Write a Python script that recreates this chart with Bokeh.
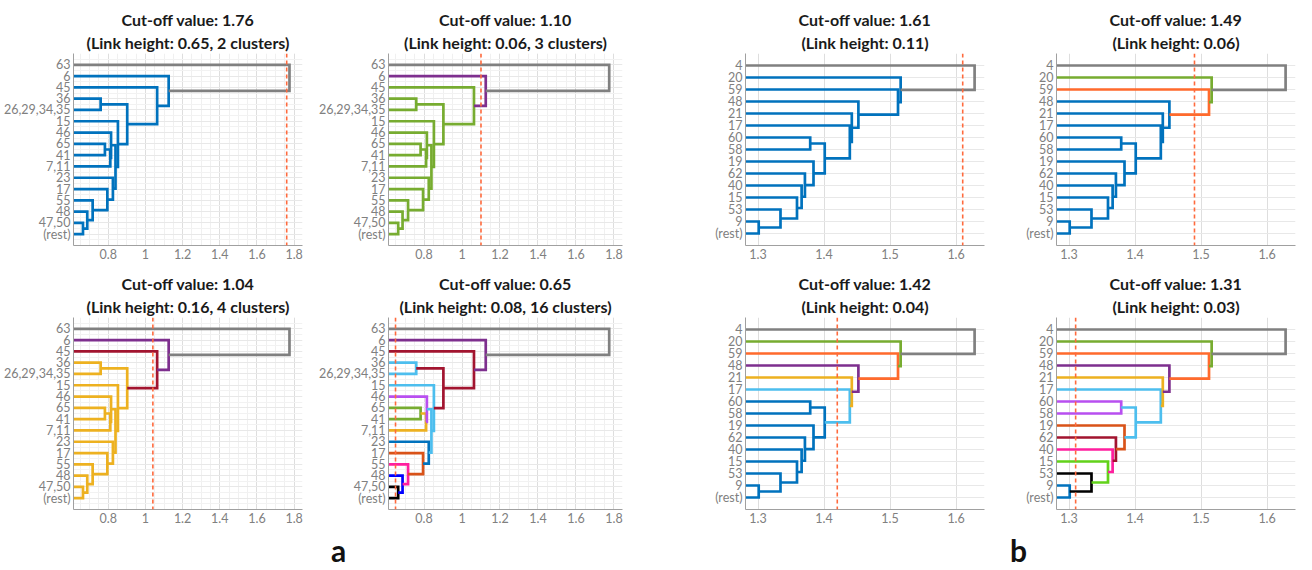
from bokeh.plotting import figure
from bokeh.models import Range1d, FixedTicker, Span, Title, Label, ColumnDataSource
from bokeh.layouts import column, row
from bokeh.embed import file_html
from bokeh.resources import INLINE

# ---------------- data ----------------
# Panel group a: 16 leaves (top to bottom)
a_leaves = ["63", "6", "45", "36", "26,29,34,35", "15", "46", "65", "41", "7,11",
            "23", "17", "55", "48", "47,50", "(rest)"]
# links: child ids (leaf index < 16, link k -> 16 + k)
a_left = [14, 13, 12, 11, 10, 7, 21, 6, 23, 5, 3, 26, 2, 1, 0]
a_right = [15, 16, 17, 18, 19, 8, 9, 22, 20, 24, 4, 25, 27, 28, 29]
a_height = [0.664, 0.687, 0.716, 0.795, 0.825, 0.782, 0.811, 0.815, 0.839,
            0.852, 0.759, 0.902, 1.063, 1.125, 1.775]
a_cut = [1.76, 1.10, 1.04, 0.65]
a_link_txt = ["0.65", "0.06", "0.16", "0.08"]
a_clusters = [2, 3, 4, 16]
a_xticks = [0.8, 1, 1.2, 1.4, 1.6, 1.8]
a_xlabels = ["0.8", "1", "1.2", "1.4", "1.6", "1.8"]

# Panel group b: 15 leaves (top to bottom)
b_leaves = ["4", "20", "59", "48", "21", "17", "60", "58", "19", "62", "40",
            "15", "53", "9", "(rest)"]
b_left = [13, 12, 11, 10, 9, 8, 6, 21, 5, 4, 3, 2, 1, 0]
b_right = [14, 15, 16, 17, 18, 19, 7, 20, 22, 23, 24, 25, 26, 27]
b_height = [1.301, 1.334, 1.359, 1.366, 1.371, 1.384, 1.379, 1.401, 1.439,
            1.442, 1.452, 1.512, 1.516, 1.628]
b_cut = [1.61, 1.49, 1.42, 1.31]
b_link_txt = ["0.11", "0.06", "0.04", "0.03"]
b_xticks = [1.3, 1.4, 1.5, 1.6]
b_xlabels = ["1.3", "1.4", "1.5", "1.6"]

panel_letters = ["a", "b"]

# ---------------- styles ----------------
BL = "#0072BD"; GR = "#77AC30"; YE = "#EDB120"; PU = "#7E2F8E"; DR = "#A2142F"
LB = "#4DBEEE"; OR = "#D95319"; GY = "#808080"; VI = "#B84FF0"; PK = "#FF1F9E"
BB = "#0000FF"; BK = "#000000"; LI = "#62D21A"; OR2 = "#FF6A2C"

a_colors = [
    [BL] * 14 + [GY],
    [GR] * 13 + [PU, GY],
    [YE] * 12 + [DR, PU, GY],
    [BK, BB, PK, OR, BL, GR, YE, VI, LB, LB, LB, DR, DR, PU, GY],
]
b_colors = [
    [BL] * 13 + [GY],
    [BL] * 11 + [OR2, GR, GY],
    [BL] * 8 + [LB, YE, PU, OR2, GR, GY],
    [BL, BK, LI, PK, DR, OR, VI, LB, LB, YE, PU, OR2, GR, GY],
]

A_XR = (0.613, 1.845)
B_XR = (1.281, 1.643)
a_xminor = [round(0.6 + 0.05 * i, 2) for i in range(26)]
a_yminor = [i + 0.5 for i in range(-1, 16)]

TICK_FONT = "12.5px"
TITLE_FONT = "16px"


def make_panel(leaves, left, right, heights, colors, cut, t1, t2, xr, xticks,
               xlabels, xminor, yminor, width, height, mbl, mbr, mbt, mbb):
    n = len(leaves)
    p = figure(width=width, height=height, output_backend="svg", toolbar_location=None,
               title=None, x_range=Range1d(*xr), y_range=Range1d(n, -1),
               min_border_left=mbl, min_border_right=mbr, min_border_top=mbt,
               min_border_bottom=mbb, background_fill_color="white",
               border_fill_color="white", outline_line_color=None)
    nx = [xr[0] - 1.0] * n
    ny = list(range(n))
    xs, ys = [], []
    for k in range(len(heights)):
        l, r, h = left[k], right[k], heights[k]
        xs.append([nx[l], h, h, nx[r]])
        ys.append([ny[l], ny[l], ny[r], ny[r]])
        nx.append(h)
        ny.append((ny[l] + ny[r]) / 2)
    src = ColumnDataSource(dict(xs=xs, ys=ys, color=colors))
    p.multi_line("xs", "ys", line_color="color", line_width=2.7, line_join="miter",
                 source=src)
    p.add_layout(Span(location=cut, dimension="height", line_color="#FF6A3D",
                      line_dash="4 3", line_width=1.6))

    p.add_layout(Title(text=t2, align="center", text_font="Lato", text_font_size=TITLE_FONT,
                       text_font_style="bold", text_color="#1a1a1a", standoff=3), "above")
    p.add_layout(Title(text=t1, align="center", text_font="Lato", text_font_size=TITLE_FONT,
                       text_font_style="bold", text_color="#1a1a1a", standoff=1), "above")

    p.xaxis.ticker = FixedTicker(ticks=xticks)
    p.xaxis.major_label_overrides = {t: s for t, s in zip(xticks, xlabels)}
    p.yaxis.ticker = FixedTicker(ticks=list(range(n)))
    p.yaxis.major_label_overrides = {i: s for i, s in enumerate(leaves)}
    for ax in (p.xaxis, p.yaxis):
        ax.axis_line_color = "#a0a0a0"
        ax.axis_line_width = 1
        ax.major_tick_line_color = None
        ax.minor_tick_line_color = None
        ax.major_tick_out = 0
        ax.major_tick_in = 0
        ax.minor_tick_out = 0
        ax.minor_tick_in = 0
        ax.major_label_text_color = "#808080"
        ax.major_label_text_font = "Lato"
        ax.major_label_text_font_size = TICK_FONT
        ax.major_label_standoff = 3

    p.xgrid.ticker = FixedTicker(ticks=xticks, minor_ticks=xminor)
    p.xgrid.grid_line_color = "#dedede"
    p.xgrid.minor_grid_line_color = "#f0f0f0" if xminor else None
    p.ygrid.ticker = FixedTicker(ticks=list(range(n)), minor_ticks=yminor)
    p.ygrid.grid_line_color = "#e8e8e8"
    p.ygrid.minor_grid_line_color = "#f2f2f2" if yminor else None
    return p


def a_titles(i):
    return (f"Cut-off value: {a_cut[i]:.2f}",
            f"(Link height: {a_link_txt[i]}, {a_clusters[i]} clusters)")


def b_titles(i):
    return (f"Cut-off value: {b_cut[i]:.2f}", f"(Link height: {b_link_txt[i]})")


# four columns: a1, a2, b1, b2
cols = [dict(w=312, l=72, r=10), dict(w=320, l=76, r=10),
        dict(w=362, l=113, r=10), dict(w=302, l=62, r=1)]
rows_cfg = [dict(h=267, t=53, b=22), dict(h=262, t=50, b=20)]

figs = []
for ri in range(2):
    rc = rows_cfg[ri]
    line = []
    for ci in range(4):
        cc = cols[ci]
        if ci < 2:
            idx = ri * 2 + ci
            t1, t2 = a_titles(idx)
            p = make_panel(a_leaves, a_left, a_right, a_height, a_colors[idx], a_cut[idx],
                           t1, t2, A_XR, a_xticks, a_xlabels, a_xminor, a_yminor,
                           cc["w"], rc["h"], cc["l"], cc["r"], rc["t"], rc["b"])
        else:
            idx = ri * 2 + (ci - 2)
            t1, t2 = b_titles(idx)
            p = make_panel(b_leaves, b_left, b_right, b_height, b_colors[idx], b_cut[idx],
                           t1, t2, B_XR, b_xticks, b_xlabels, [], [],
                           cc["w"], rc["h"], cc["l"], cc["r"], rc["t"], rc["b"])
        line.append(p)
    figs.append(line)

# strip with the panel-group letters
strip = figure(width=1296, height=40, output_backend="svg", toolbar_location=None,
               title=None, x_range=Range1d(0, 1296), y_range=Range1d(0, 40),
               x_axis_type=None, y_axis_type=None, min_border=0,
               outline_line_color=None, background_fill_color="white",
               border_fill_color="white")
strip.grid.visible = False
for letter, xpos in zip(panel_letters, [338, 1018]):
    strip.add_layout(Label(x=xpos, y=2, text=letter, text_font="Lato",
                           text_font_size="30px", text_font_style="bold",
                           text_align="center", text_baseline="bottom",
                           text_color="#111111"))

layout = column(row(*figs[0]), row(*figs[1]), strip)
open("out.html", "w").write(file_html(layout, INLINE))
